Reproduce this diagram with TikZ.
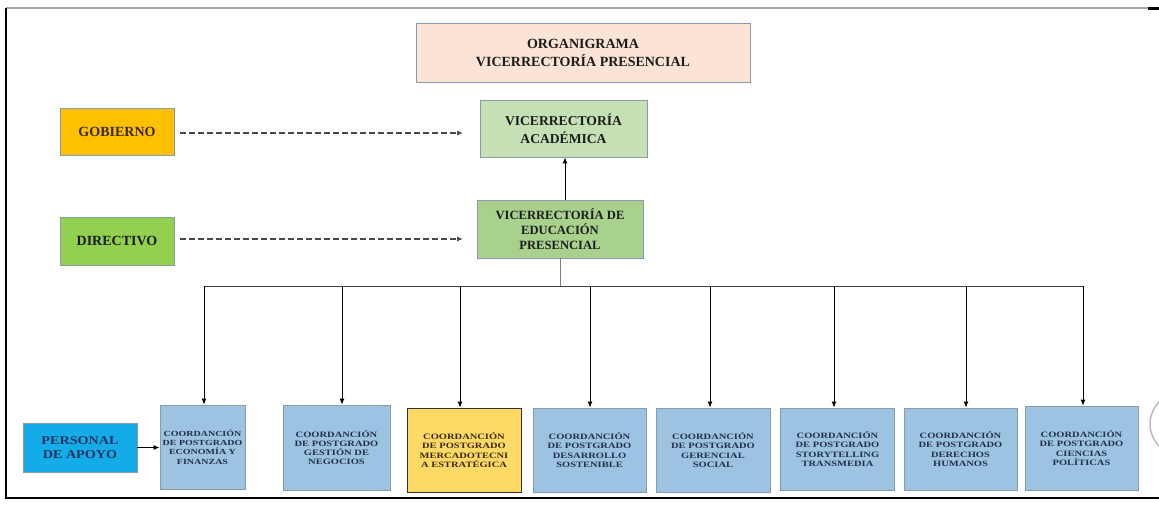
\documentclass[tikz,border=0pt]{standalone}
\usepackage{fontspec}
\setmainfont{Liberation Serif}
\newfontfamily\widefont[FakeStretch=1.28]{Liberation Serif Bold}
\newfontfamily\midfont[FakeStretch=1.18]{Liberation Serif Bold}
\usetikzlibrary{arrows.meta}
\definecolor{peach}{HTML}{FBE3D6}
\definecolor{lgreen}{HTML}{C5E0B4}
\definecolor{mgreen}{HTML}{A9D18E}
\definecolor{dgreen}{HTML}{92D050}
\definecolor{orangeY}{HTML}{FFC000}
\definecolor{skyblue}{HTML}{13ACE8}
\definecolor{coblue}{HTML}{9DC3E3}
\definecolor{yellowbox}{HTML}{FFD966}
\definecolor{bordgray}{HTML}{8A9AAA}
\definecolor{txtdark}{HTML}{1C1C1C}
\definecolor{cotext}{HTML}{22304A}
\definecolor{browntext}{HTML}{3A2A0C}
\definecolor{navytext}{HTML}{1F3460}
\definecolor{dashgray}{HTML}{4A4A4A}
\begin{document}
\begin{tikzpicture}[x=1pt,y=-1pt,
  base/.style={rectangle, align=center, inner sep=2pt, line width=0.9pt, draw=bordgray},
  topbox/.style={base, font=\bfseries\fontsize{14}{17.5}\selectfont, text=txtdark},
  cobox/.style={base, fill=coblue, minimum width=114, minimum height=84,
    font=\widefont\fontsize{8.2}{9.2}\selectfont, text=cotext},
  arr/.style={-{Latex[length=6pt,width=5pt]}, line width=0.9pt, draw=black},
  dasharr/.style={-{Latex[length=6pt,width=5pt]}, line width=1.1pt, draw=dashgray, dash pattern=on 5.5pt off 3.5pt},
  busline/.style={line width=0.9pt, draw=black!75}
]
\useasboundingbox (0,0) rectangle (1159,507);
\fill[white] (0,0) rectangle (1159,507);

% frame
\draw[gray!70, line width=1.5pt] (6,8) -- (1159,8);
\draw[black, line width=2.5pt] (1148,8.5) -- (1159,8.5);
\draw[black, line width=2pt] (6,7.5) -- (6,498);
\draw[black, line width=2.5pt] (5,498) -- (1159,498);
\begin{scope}
  \clip (0,0) rectangle (1159,507);
  \draw[gray!55, line width=1.4pt] (1181,424) circle (31pt);
\end{scope}

% top nodes
\node[topbox, fill=peach, minimum width=334, minimum height=59,
  font=\bfseries\fontsize{14}{18}\selectfont] (title) at (583,52.5)
  {ORGANIGRAMA\\VICERRECTORÍA PRESENCIAL};
\node[topbox, fill=lgreen, minimum width=167, minimum height=57,
  font=\bfseries\fontsize{13.6}{17.5}\selectfont] (va) at (563.5,128.5)
  {VICERRECTORÍA\\ACADÉMICA};
\node[topbox, fill=mgreen, minimum width=166, minimum height=58,
  font=\bfseries\fontsize{12.6}{15.3}\selectfont] (ved) at (560,229)
  {VICERRECTORÍA DE\\EDUCACIÓN\\PRESENCIAL};
\node[topbox, fill=orangeY, minimum width=114, minimum height=47, text=browntext] (gob) at (117,131.5)
  {GOBIERNO};
\node[topbox, fill=dgreen, minimum width=114, minimum height=48] (dir) at (117,241)
  {DIRECTIVO};
\node[base, fill=skyblue, minimum width=114, minimum height=49, text=navytext,
  font=\midfont\fontsize{12}{13.5}\selectfont] (pers) at (80,447.5)
  {PERSONAL\\DE APOYO};

% bottom nodes
\node[cobox, minimum width=85, inner sep=1pt, font=\widefont\fontsize{7.8}{9.2}\selectfont] (b1) at (202.5,447) {COORDANCIÓN\\DE POSTGRADO\\ECONOMÍA Y\\FINANZAS};
\node[cobox, minimum width=107, minimum height=85] (b2) at (336.5,447.5) {COORDANCIÓN\\DE POSTGRADO\\GESTIÓN DE\\NEGOCIOS};
\node[cobox, fill=yellowbox, draw=black!80, text=browntext] (b3) at (464,450) {COORDANCIÓN\\DE POSTGRADO\\MERCADOTECNI\\A ESTRATÉGICA};
\node[cobox, minimum width=113] (b4) at (589.5,450) {COORDANCIÓN\\DE POSTGRADO\\DESARROLLO\\SOSTENIBLE};
\node[cobox] (b5) at (713,450) {COORDANCIÓN\\DE POSTGRADO\\GERENCIAL\\SOCIAL};
\node[cobox, minimum height=82] (b6) at (837.5,449) {COORDANCIÓN\\DE POSTGRADO\\STORYTELLING\\TRANSMEDIA};
\node[cobox, minimum width=113, minimum height=82] (b7) at (960.5,449) {COORDANCIÓN\\DE POSTGRADO\\DERECHOS\\HUMANOS};
\node[cobox, minimum width=113] (b8) at (1081.5,448) {COORDANCIÓN\\DE POSTGRADO\\CIENCIAS\\POLÍTICAS};

% connectors
\coordinate (gobend) at (463,133);
\coordinate (dirend) at (463,239);
\draw[dasharr] ([xshift=6pt]gob.east |- gobend) -- (gobend);
\draw[dasharr] ([xshift=6pt]dir.east |- dirend) -- (dirend);
\draw[arr] (ved.north -| 565,0) -- (va.south -| 565,0);

\coordinate (bus) at (0,286);
\draw[line width=0.9pt, draw=black!50] (ved.south) -- (ved.south |- bus);
\draw[busline] (204,286) -- (1083,286);
\foreach \n/\xx in {b1/204, b2/342, b3/460, b4/590, b5/710, b6/834, b7/966, b8/1083}{
  \draw[arr] (\xx,286) -- (\n.north -| \xx,0);
}
\draw[arr] (pers.east) -- (b1.west |- pers.east);
\end{tikzpicture}
\end{document}
